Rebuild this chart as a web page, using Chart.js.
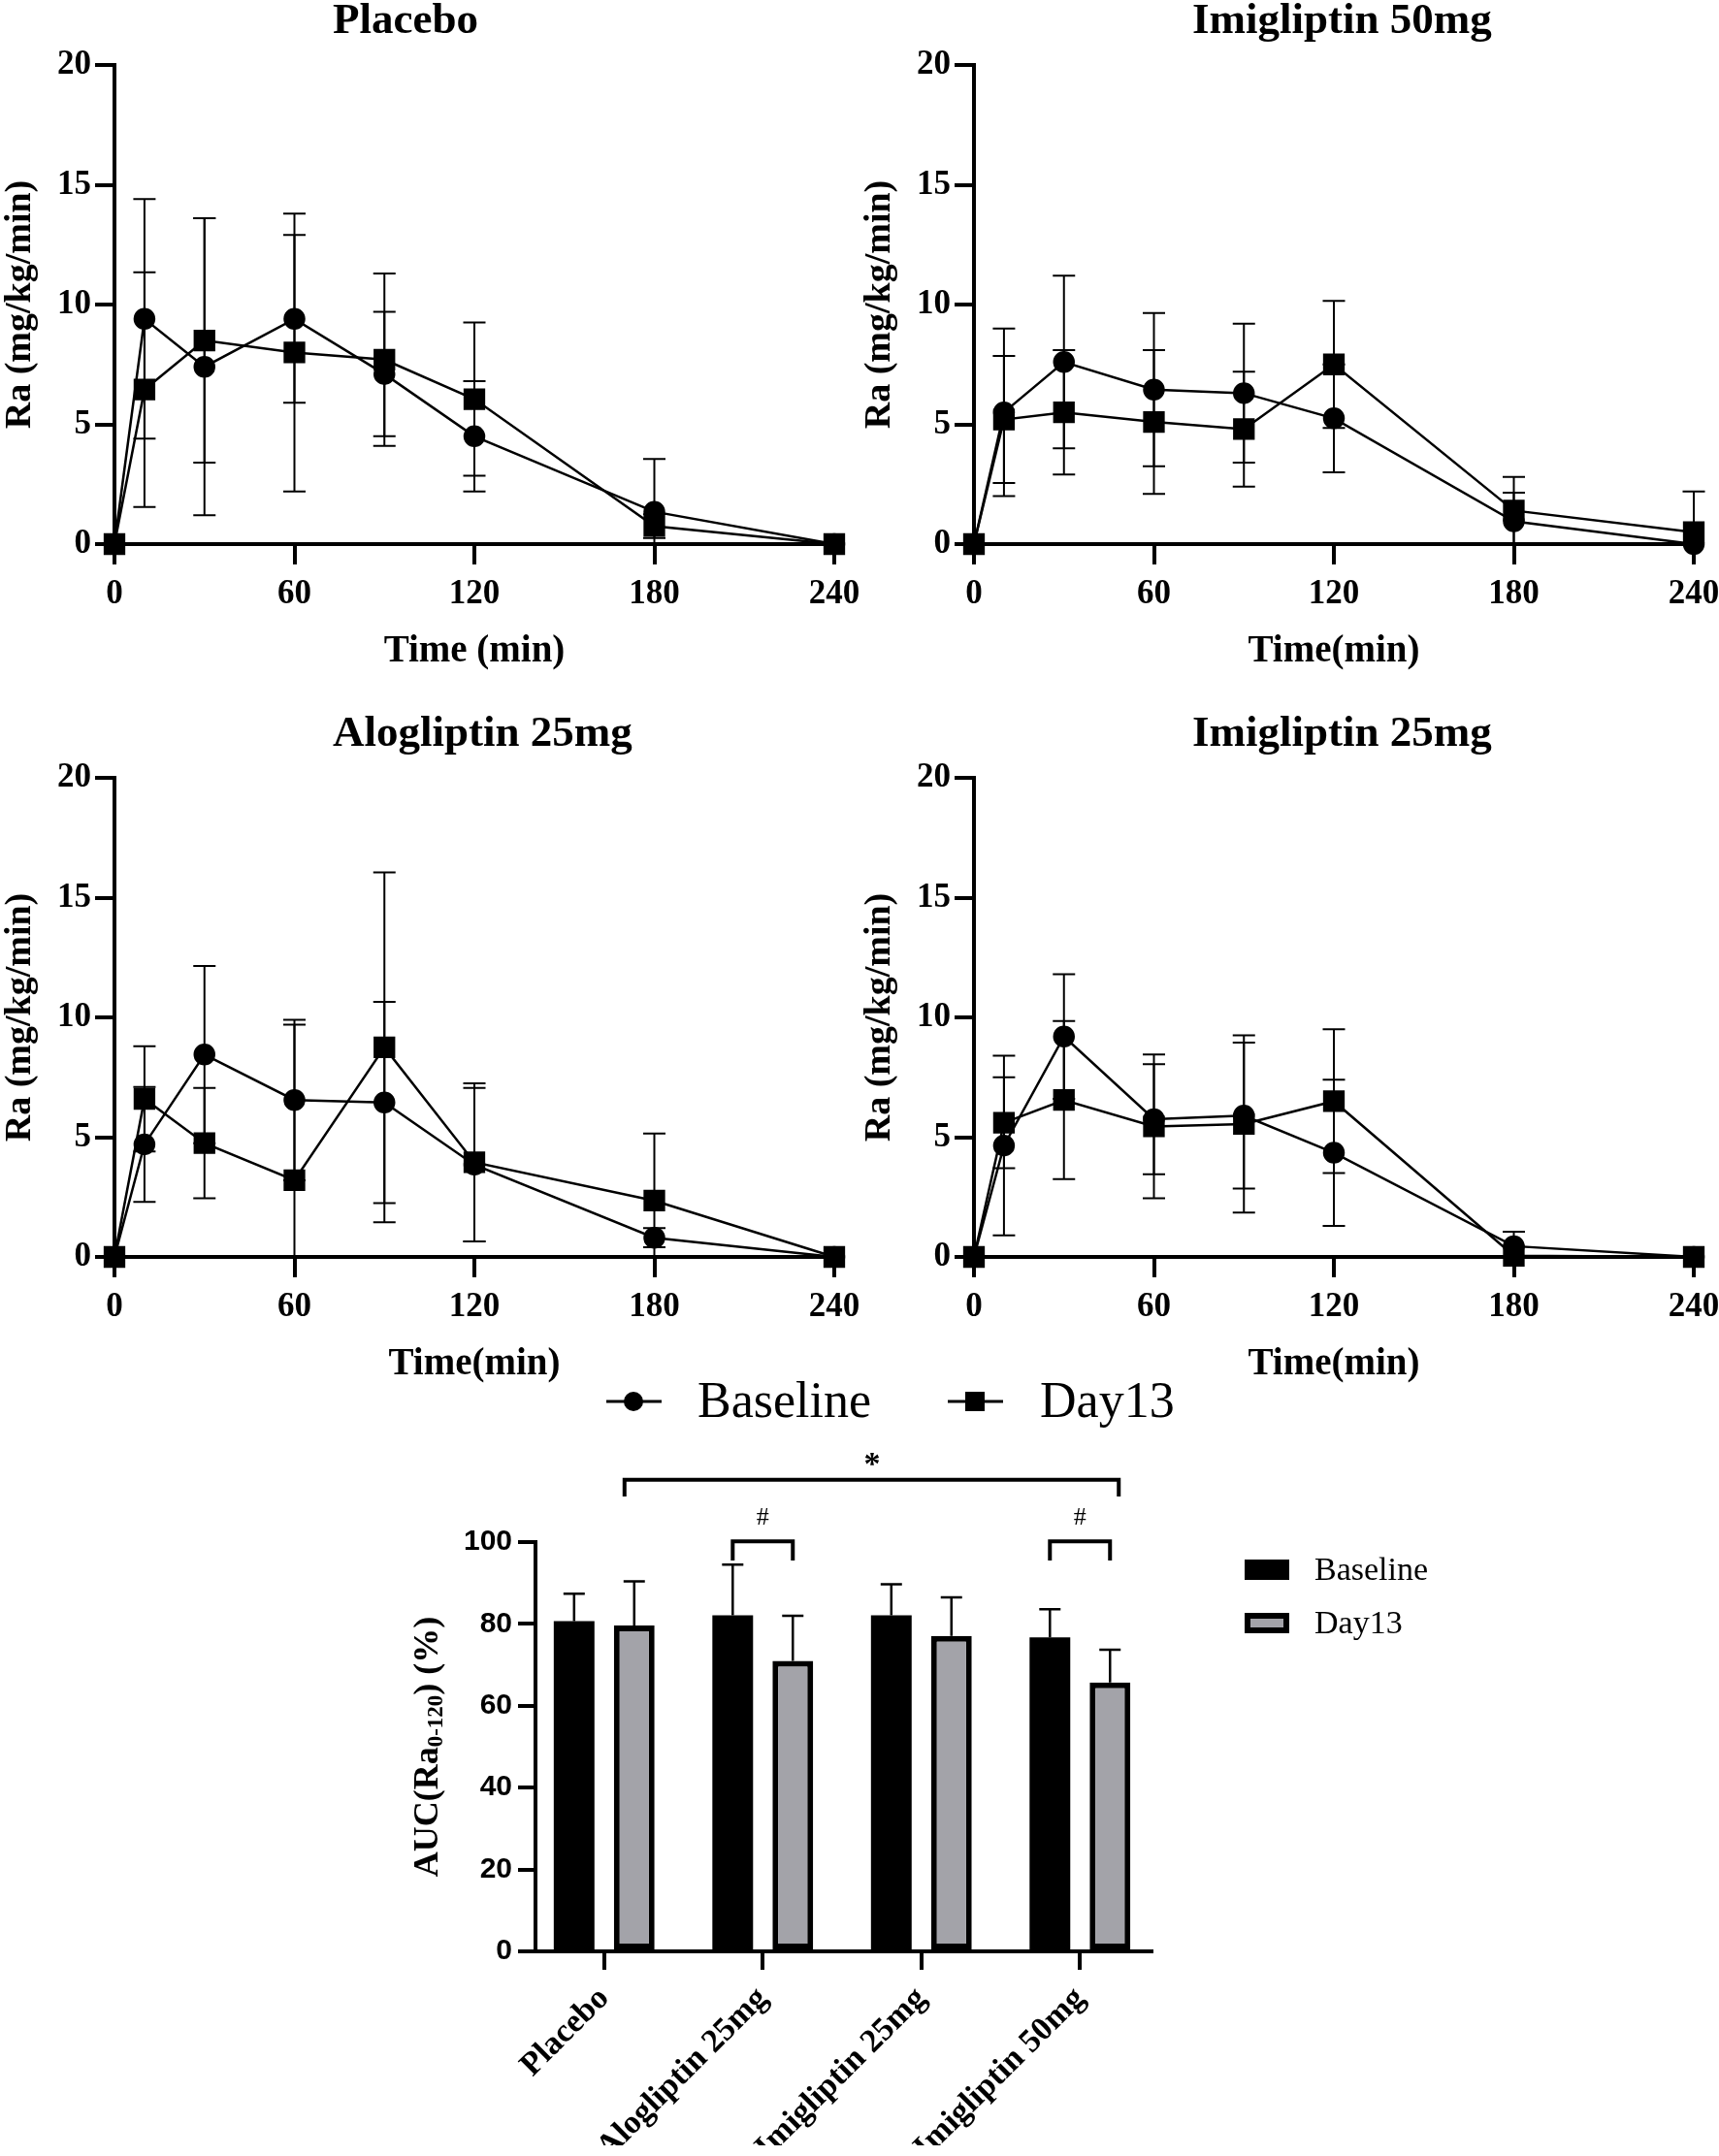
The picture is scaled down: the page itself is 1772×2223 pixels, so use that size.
<!DOCTYPE html>
<html>
<head>
<meta charset="utf-8">
<title>Ra time course and AUC</title>
<script src="https://cdn.jsdelivr.net/npm/chart.js@4.4.1/dist/chart.umd.min.js"></script>
<style>
  html, body { margin: 0; padding: 0; background: #fff; width: 1772px; height: 2223px; overflow: hidden; position: relative; }
  canvas { position: absolute; }
</style>
</head>
<body>
<canvas id="placebo" width="920" height="735" style="left:0;top:0;width:920px;height:735px"></canvas>
<canvas id="imi50" width="920" height="735" style="left:886px;top:0;width:920px;height:735px"></canvas>
<canvas id="alo25" width="920" height="735" style="left:0;top:735px;width:920px;height:735px"></canvas>
<canvas id="imi25" width="920" height="735" style="left:886px;top:735px;width:920px;height:735px"></canvas>
<canvas id="auc" width="1772" height="823" style="left:0;top:1400px;width:1772px;height:823px"></canvas>
<script>
// sampling times (min)
const time = [0, 10, 30, 60, 90, 120, 180, 240];

// Ra (mg/kg/min), mean and SD
const placeboBase    = [0, 9.4, 7.4, 9.4, 7.1, 4.5, 1.35, 0];
const placeboBaseSd  = [0, 5.0, 6.2, 3.5, 2.6, 2.3, 2.2, 0];
const placeboDay     = [0, 6.45, 8.5, 8.0, 7.7, 6.05, 0.75, 0];
const placeboDaySd   = [0, 4.9, 5.1, 5.8, 3.6, 3.2, 0.5, 0];

const imi50Base      = [0, 5.5, 7.6, 6.45, 6.3, 5.25, 0.95, 0];
const imi50BaseSd    = [0, 3.5, 3.6, 3.2, 2.9, 2.25, 1.2, 0];
const imi50Day       = [0, 5.2, 5.5, 5.1, 4.8, 7.5, 1.4, 0.5];
const imi50DaySd     = [0, 2.65, 2.6, 3.0, 2.4, 2.65, 1.4, 1.7];

const alo25Base      = [0, 4.7, 8.45, 6.55, 6.45, 3.85, 0.8, 0];
const alo25BaseSd    = [0, 2.4, 3.7, 3.35, 4.2, 3.2, 0.4, 0];
const alo25Day       = [0, 6.6, 4.75, 3.2, 8.75, 3.95, 2.35, 0];
const alo25DaySd     = [0, 2.2, 2.3, 6.5, 7.3, 3.3, 2.8, 0];

const imi25Base      = [0, 4.65, 9.2, 5.75, 5.9, 4.35, 0.45, 0];
const imi25BaseSd    = [0, 3.75, 2.6, 2.3, 3.05, 3.05, 0.6, 0];
const imi25Day       = [0, 5.6, 6.55, 5.45, 5.55, 6.5, 0.05, 0];
const imi25DaySd     = [0, 1.9, 3.3, 3.0, 3.7, 3.0, 0, 0];

// AUC(Ra 0-120) (%)
const groups      = ['Placebo', 'Alogliptin 25mg', 'Imigliptin 25mg', 'Imigliptin 50mg'];
const aucBase     = [80.7, 82.1, 82.1, 76.7];
const aucBaseSd   = [6.7, 12.4, 7.6, 6.9];
const aucDay      = [79.6, 71.0, 77.1, 65.7];
const aucDaySd    = [10.8, 11.0, 9.4, 8.0];

const SERIF = "'Liberation Serif', 'Times New Roman', serif";
const SANS = "'Liberation Sans', Arial, sans-serif";
const GREY = '#a3a3a9';

Chart.defaults.font.family = SERIF;
Chart.defaults.color = '#000';

// vertical SD bars behind the markers
const errorBars = {
  id: 'errorBars',
  beforeDatasetsDraw(chart) {
    const {ctx, scales: {y}} = chart;
    ctx.save();
    ctx.strokeStyle = '#000';
    ctx.lineWidth = 2;
    chart.data.datasets.forEach((ds, di) => {
      const meta = chart.getDatasetMeta(di);
      ds.sd.forEach((s, i) => {
        if (!s) return;
        const v = ds.data[i].y;
        const px = meta.data[i].x;
        const top = y.getPixelForValue(v + s);
        const low = v - s;
        const bot = y.getPixelForValue(Math.max(low, 0));
        ctx.beginPath();
        ctx.moveTo(px, top); ctx.lineTo(px, bot);
        ctx.moveTo(px - 11.5, top); ctx.lineTo(px + 11.5, top);
        if (low > 0) { ctx.moveTo(px - 11.5, bot); ctx.lineTo(px + 11.5, bot); }
        ctx.stroke();
      });
    });
    ctx.restore();
  }
};

const panelTitle = {
  id: 'panelTitle',
  afterDraw(chart, args, opts) {
    const {ctx, chartArea} = chart;
    ctx.save();
    ctx.font = 'bold 45px ' + SERIF;
    ctx.fillStyle = '#000';
    ctx.textBaseline = 'alphabetic';
    ctx.fillText(opts.text, chartArea.left + 225, 34);
    ctx.restore();
  }
};

function series(vals) {
  return time.map((t, i) => ({x: t, y: vals[i]}));
}

function lineChart(id, title, xTitle, base, baseSd, day, daySd) {
  const tickFont = {family: SERIF, size: 35, weight: 'bold'};
  const grid = {drawOnChartArea: false, lineWidth: 4, color: '#000'};
  return new Chart(document.getElementById(id), {
    type: 'line',
    data: {
      datasets: [
        {label: 'Baseline', data: series(base), sd: baseSd, pointStyle: 'circle', pointRadius: 10,
         borderColor: '#000', backgroundColor: '#000', borderWidth: 2.5, clip: false},
        {label: 'Day13', data: series(day), sd: daySd, pointStyle: 'rect', pointRadius: 14,
         borderColor: '#000', backgroundColor: '#000', borderWidth: 2.5, clip: false}
      ]
    },
    options: {
      responsive: false,
      animation: false,
      devicePixelRatio: 1,
      layout: {padding: {left: 2, right: 60, top: 67, bottom: 34}},
      plugins: {legend: {display: false}, tooltip: {enabled: false}, panelTitle: {text: title}},
      scales: {
        x: {
          type: 'linear', min: 0, max: 240,
          ticks: {stepSize: 60, font: tickFont, color: '#000', padding: 10},
          grid: Object.assign({tickLength: 21}, grid),
          border: {width: 4, color: '#000'},
          title: {display: true, text: xTitle, color: '#000',
                  font: {family: SERIF, size: 39, weight: 'bold', lineHeight: 1}, padding: {top: 0, bottom: 10}},
          afterFit(s) { s.height = 140; }
        },
        y: {
          min: 0, max: 20,
          ticks: {stepSize: 5, font: tickFont, color: '#000', padding: 4},
          grid: Object.assign({tickLength: 20}, grid),
          border: {width: 4, color: '#000'},
          title: {display: true, text: 'Ra (mg/kg/min)', color: '#000',
                  font: {family: SERIF, size: 38, weight: 'bold', lineHeight: 1}, padding: {top: 0, bottom: 0}},
          afterFit(s) { s.width = 116; }
        }
      }
    },
    plugins: [errorBars, panelTitle]
  });
}

lineChart('placebo', 'Placebo', 'Time (min)', placeboBase, placeboBaseSd, placeboDay, placeboDaySd);
lineChart('imi50', 'Imigliptin 50mg', 'Time(min)', imi50Base, imi50BaseSd, imi50Day, imi50DaySd);
lineChart('alo25', 'Alogliptin 25mg', 'Time(min)', alo25Base, alo25BaseSd, alo25Day, alo25DaySd);
lineChart('imi25', 'Imigliptin 25mg', 'Time(min)', imi25Base, imi25BaseSd, imi25Day, imi25DaySd);

// bar chart extras: SD bars, significance brackets, legends, axis title with subscript
const barExtras = {
  id: 'barExtras',
  afterDatasetsDraw(chart) {
    const {ctx, scales: {y}} = chart;
    ctx.save();
    ctx.strokeStyle = '#000';
    ctx.lineWidth = 2.5;
    chart.data.datasets.forEach((ds, di) => {
      const meta = chart.getDatasetMeta(di);
      ds.sd.forEach((s, i) => {
        const bar = meta.data[i];
        const top = y.getPixelForValue(ds.data[i].y + s);
        ctx.beginPath();
        ctx.moveTo(bar.x, bar.y); ctx.lineTo(bar.x, top);
        ctx.moveTo(bar.x - 11, top); ctx.lineTo(bar.x + 11, top);
        ctx.stroke();
      });
    });
    ctx.restore();
  },
  afterDraw(chart) {
    const {ctx, scales: {y}, chartArea} = chart;
    const b = chart.getDatasetMeta(0).data;
    const d = chart.getDatasetMeta(1).data;
    ctx.save();
    ctx.strokeStyle = '#000';
    ctx.fillStyle = '#000';
    ctx.lineWidth = 4;
    ctx.lineCap = 'square';

    function bracket(x1, x2, v, legV) {
      const yy = y.getPixelForValue(v), yl = y.getPixelForValue(legV);
      ctx.beginPath();
      ctx.moveTo(x1, yl); ctx.lineTo(x1, yy); ctx.lineTo(x2, yy); ctx.lineTo(x2, yl);
      ctx.stroke();
    }
    bracket(d[0].x - 10, d[3].x + 9, 115.2, 111.6);
    bracket(b[1].x, d[1].x, 100.2, 96);
    bracket(b[3].x, d[3].x, 100.2, 96);

    ctx.textAlign = 'center';
    ctx.textBaseline = 'middle';
    ctx.font = 'bold 34px ' + SERIF;
    ctx.fillText('*', (d[0].x + d[3].x) / 2, y.getPixelForValue(118.6));
    ctx.font = '26px ' + SERIF;
    ctx.fillText('#', (b[1].x + d[1].x) / 2, y.getPixelForValue(105.9));
    ctx.fillText('#', (b[3].x + d[3].x) / 2, y.getPixelForValue(105.9));

    // line-chart legend
    ctx.textAlign = 'left';
    ctx.textBaseline = 'alphabetic';
    ctx.lineWidth = 3;
    ctx.lineCap = 'butt';
    ctx.beginPath(); ctx.moveTo(625, 45); ctx.lineTo(682, 45); ctx.stroke();
    ctx.beginPath(); ctx.arc(653, 45, 10, 0, Math.PI * 2); ctx.fill();
    ctx.beginPath(); ctx.moveTo(977, 45); ctx.lineTo(1034, 45); ctx.stroke();
    ctx.fillRect(995, 35, 20, 20);
    ctx.font = '52px ' + SERIF;
    ctx.fillText('Baseline', 719, 61);
    ctx.fillText('Day13', 1072, 61);

    // bar legend
    ctx.fillRect(1283, 208, 46, 21);
    ctx.fillRect(1283, 263, 46, 21);
    ctx.fillStyle = GREY;
    ctx.fillRect(1289, 269, 34, 9);
    ctx.fillStyle = '#000';
    ctx.font = '34px ' + SERIF;
    ctx.fillText('Baseline', 1355, 229);
    ctx.fillText('Day13', 1355, 284);

    // y axis title: AUC(Ra0-120) (%)
    const parts = [['AUC(Ra', 36, 0], ['0-120', 23, 8], [') (%)', 36, 0]];
    let total = 0;
    parts.forEach(p => { ctx.font = 'bold ' + p[1] + 'px ' + SERIF; total += ctx.measureText(p[0]).width; });
    ctx.translate(442, (chartArea.top + chartArea.bottom) / 2);
    ctx.rotate(-Math.PI / 2);
    ctx.textBaseline = 'middle';
    let x = -total / 2;
    parts.forEach(p => {
      ctx.font = 'bold ' + p[1] + 'px ' + SERIF;
      ctx.fillText(p[0], x, p[2]);
      x += ctx.measureText(p[0]).width;
    });
    ctx.restore();
  }
};

new Chart(document.getElementById('auc'), {
  type: 'bar',
  data: {
    datasets: [
      {label: 'Baseline', data: groups.map((g, i) => ({x: i + 1, y: aucBase[i]})), sd: aucBaseSd,
       backgroundColor: '#000', borderColor: '#000', borderWidth: 0,
       categoryPercentage: 0.758, barPercentage: 0.677},
      {label: 'Day13', data: groups.map((g, i) => ({x: i + 1, y: aucDay[i]})), sd: aucDaySd,
       backgroundColor: GREY, borderColor: '#000', borderWidth: 6, borderSkipped: false,
       categoryPercentage: 0.758, barPercentage: 0.677}
    ]
  },
  options: {
    responsive: false,
    animation: false,
    devicePixelRatio: 1,
    layout: {padding: {left: 452, right: 585, top: 190, bottom: 11}},
    plugins: {legend: {display: false}, tooltip: {enabled: false}},
    scales: {
      x: {
        type: 'linear', min: 0.567, max: 4.451, offset: false,
        afterBuildTicks(s) { s.ticks = groups.map((g, i) => ({value: i + 1})); },
        ticks: {callback: (v, i) => groups[i], autoSkip: false, minRotation: 45, maxRotation: 45,
                font: {family: SERIF, size: 34, weight: 'bold'}, color: '#000', padding: 10},
        grid: {offset: false, drawOnChartArea: false, tickLength: 19, lineWidth: 4, color: '#000'},
        border: {width: 4, color: '#000'},
        afterFit(s) { s.height = 200; }
      },
      y: {
        min: 0, max: 100,
        ticks: {stepSize: 20, font: {family: SANS, size: 30, weight: 'bold'}, color: '#000', padding: 6},
        grid: {drawOnChartArea: false, tickLength: 18, lineWidth: 4, color: '#000'},
        border: {width: 4, color: '#000'},
        afterFit(s) { s.width = 100; }
      }
    }
  },
  plugins: [barExtras]
});
</script>
</body>
</html>
